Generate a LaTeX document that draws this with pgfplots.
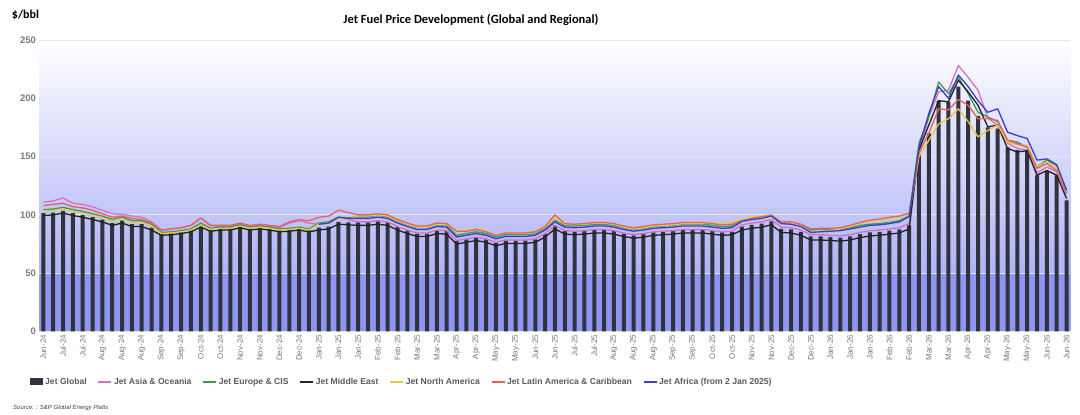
\documentclass[border=0pt]{standalone}
\usepackage{fontspec}
\setmainfont{Liberation Sans}
\newfontfamily\titlefont{Carlito}
\usepackage{pgfplots}
\usepackage{pgfplotstable}
\pgfplotsset{compat=1.18}

\definecolor{barc}{HTML}{30323D}
\definecolor{asia}{HTML}{D86FC2}
\definecolor{eur}{HTML}{3E9B4F}
\definecolor{mec}{HTML}{222222}
\definecolor{nac}{HTML}{E9C94A}
\definecolor{lat}{HTML}{E2645C}
\definecolor{afr}{HTML}{3B3FC0}
\definecolor{tickc}{HTML}{7A7A7A}
\definecolor{legc}{HTML}{5A5A5A}
\definecolor{bgmid}{HTML}{CDD0F9}
\definecolor{bgbot}{HTML}{99A0F4}
\definecolor{band}{HTML}{8E96F2}
\definecolor{gridc}{HTML}{E6E7F2}

\pgfplotstableread{
x g asia eur me na lat afr
0 101.5 111 104.5 99.5 103 108 nan
1 102 112 105 100 103.5 109 nan
2 103.5 114.5 106.5 101.5 105 110 nan
3 101.5 110 104.5 99.5 103 107 nan
4 100 109 103 98 101.5 106 nan
5 98 107 101 96 99.5 104 nan
6 96 104 99 94 97.5 101 nan
7 93 101 96 91 94.5 98 nan
8 95 100.5 98 93 96.5 99 nan
9 92 99 95 90 93.5 97 nan
10 92 98 95 90 93.5 96 nan
11 89 94 92 87 90.5 93 nan
12 84 87 85 82.5 84 87 nan
13 84.5 88 85.5 83 84.5 88 nan
14 85.5 89 86.5 84 85.5 89 nan
15 87 91 88 85.5 87 91 nan
16 91 97 93 89.5 91 97.5 nan
17 87.5 91 88.5 86 87.5 91 nan
18 88.5 90 89.5 87 88.5 91 nan
19 88.5 90 89.5 87 88.5 91 nan
20 90.5 92 91.5 89 90.5 93 nan
21 88.5 90 89.5 87 88.5 91 nan
22 89.5 91 90.5 88 89.5 92 nan
23 88.5 90 89.5 87 88.5 91 nan
24 87 89 88 85.5 87 90 nan
25 87.5 93 88.5 86 87.5 94 nan
26 88.5 95 89.5 87 88.5 96 nan
27 87 93 88 85.5 87 95 nan
28 89 92 93 87 92 98 92
29 90 93 94 88 93 99 93
30 94 98 98 92 97 104 98
31 93.5 96 97.5 91.5 96.5 102 97
32 93.5 94 98.5 91 99 100 97
33 93.5 94 98.5 91 99 100 97
34 94.5 95 99.5 92 100 101 98
35 93.5 94 98.5 91 99 100 97
36 89.5 90 94.5 87 95 96 93
37 86.5 87 91.5 84 92 93 90
38 84 84.5 89 81.5 89.5 90.5 87.5
39 84 84.5 89 81.5 89.5 90.5 87.5
40 86.5 87 91.5 84 92 93 90
41 86 86.5 91 83.5 91.5 92.5 89.5
42 77.5 78 82.5 75 86.5 86 81
43 79 79.5 84 76.5 87 86 82.5
44 80.5 81 85.5 78 88 87.5 84
45 79 79.5 84 76.5 86.5 85.5 82.5
46 76 76.5 81 73.5 82.5 82.5 79.5
47 78 78.5 83 75.5 84.5 84.5 81.5
48 78 78.5 83 75.5 84 84.5 81.5
49 78 78.5 83 75.5 84 84.5 81.5
50 79 79.5 84 76.5 85 85.5 82.5
51 83.5 84 88.5 81 89.5 90 87
52 91 91 95.5 88 97 100 94
53 86 86.5 91 83.5 92 92.5 89.5
54 85.5 86 90.5 83 91.5 92 89
55 86 86.5 91 83.5 92 92.5 89.5
56 87 87.5 92 84.5 93 93.5 90.5
57 87 87.5 92 84.5 93 93.5 90.5
58 86 86.5 91 83.5 92 92.5 89.5
59 84 84.5 89 81.5 89.5 90.5 87.5
60 82.5 83 87.5 80 88 89 86
61 83.5 84 88.5 81 89 90 87
62 85 85.5 90 82.5 90.5 91.5 88.5
63 85.5 86 90.5 83 91 92 89
64 86 86.5 91 83.5 91.5 92.5 89.5
65 87 87.5 92 84.5 92.5 93.5 90.5
66 87 87.5 92 84.5 92.5 93.5 90.5
67 87 87.5 92 84.5 92.5 93.5 90.5
68 86 86.5 91 83.5 93 92.5 89.5
69 85 85.5 90 82.5 93.5 91.5 88.5
70 85.5 86 90.5 83 94 92 89
71 90 91.5 95.5 87 96 95 94.5
72 91.5 93 97.5 88.5 98 97 96
73 92.5 94 98.5 89.5 99 98.5 97
74 94.5 96 100 91.5 100 99.5 99
75 88 89.5 93.5 85 93.5 94 92.5
76 87.5 89 93 84.5 93 94 92
77 85.5 87 91 82.5 90.5 92 90
78 81.5 83 87 78.5 85.5 88 85
79 81.5 83 88 78.5 86 88.5 85.5
80 81 82.5 87 78 86.5 88.5 86
81 80.5 82 87.5 77.5 88 89 86.5
82 81.5 83 89 78.5 90 91 88
83 83.5 85 91 80.5 92.5 93.5 89.5
84 85 86.5 92 82 94.5 95.5 91
85 85.5 87 92.5 82.5 95.5 96.5 91.5
86 86.5 88 93.5 83.5 96.5 98 92.5
87 87.5 89 95 84.5 98 99 94
88 91 92.5 99 88 101 101.5 98.5
89 152 153 161.5 155.5 150 153 158
90 170 184 184 177 164 170 187
91 198 205.5 214 198 178 191 210
92 197 207 204 197 182.5 190 200
93 210 228 218 215.5 191 199 220
94 198 218 204 205.5 180 194 210
95 185 207 188 194 167 182.5 198
96 175 183 184 175.5 172.5 182.5 188
97 174 177 180 177 177 181 191
98 158 161.5 164 157 162.5 164 171
99 155.5 157 162.5 154 160 161 168
100 155 155.5 158 155 160 158 165.5
101 134 136 141 134 141 140 147
102 138 141 147 138 145.5 144 148
103 134 137 142.5 134 140 138 143
104 112.5 118.5 121 114 120 118 121
}\data

\begin{document}
\begin{tikzpicture}
\useasboundingbox (0,0) rectangle (1080pt,415pt);
\begin{axis}[
  at={(39.4pt,83.5pt)}, anchor=south west,
  scale only axis, width=1031.1pt, height=291.5pt,
  xmin=-0.4, xmax=104.4, ymin=0, ymax=250,
  ytick={0,50,100,150,200,250},
  xtick={0,2,...,104},
  xticklabels={Jun-24,Jul-24,Jul-24,Aug-24,Aug-24,Aug-24,Sep-24,Sep-24,Oct-24,Oct-24,Nov-24,Nov-24,Dec-24,Dec-24,Jan-25,Jan-25,Jan-25,Feb-25,Feb-25,Mar-25,Mar-25,Apr-25,Apr-25,May-25,May-25,Jun-25,Jun-25,Jul-25,Jul-25,Aug-25,Aug-25,Aug-25,Sep-25,Sep-25,Oct-25,Oct-25,Nov-25,Nov-25,Dec-25,Dec-25,Jan-26,Jan-26,Jan-26,Feb-26,Feb-26,Mar-26,Mar-26,Apr-26,Apr-26,May-26,May-26,Jun-26,Jun-26},
  /pgf/number format/assume math mode=true,
  x tick label style={rotate=90, anchor=east, font=\fontsize{8}{9}\selectfont, text=tickc},
  y tick label style={font=\bfseries\fontsize{9.5}{10}\selectfont, text=tickc},
  ymajorgrids, grid style={draw=gridc, line width=0.8pt},
  axis line style={draw=none},
  major tick length=0pt,
  axis background/.style={shade, top color=white, middle color=bgmid, bottom color=bgbot},
  legend style={at={(axis description cs:0,0)}, anchor=west, xshift=-9.4pt, yshift=-50.5pt,
    draw=none, fill=none, inner sep=0pt, legend columns=7,
    font=\bfseries\fontsize{8.6}{10}\selectfont, text=legc,
    /tikz/every even column/.append style={column sep=9pt}},
  legend image code/.code={\draw[#1] (0pt,0pt) -- (13pt,0pt);},
]
\addplot[draw=none, fill=band, forget plot] coordinates {(-0.4,49.4) (104.4,49.4)} \closedcycle;
\addplot[ybar, bar width=4pt, fill=barc, draw=none,
  legend image code/.code={\fill[barc] (0pt,-3.5pt) rectangle (13pt,3.5pt);}] table[x=x,y=g] {\data};
\addlegendentry{Jet Global}
\addplot[asia, line width=1.3pt, line join=round] table[x=x,y=asia] {\data};
\addlegendentry{Jet Asia \& Oceania}
\addplot[eur, line width=1.3pt, line join=round] table[x=x,y=eur] {\data};
\addlegendentry{Jet Europe \& CIS}
\addplot[mec, line width=1.3pt, line join=round] table[x=x,y=me] {\data};
\addlegendentry{Jet Middle East}
\addplot[nac, line width=1.3pt, line join=round] table[x=x,y=na] {\data};
\addlegendentry{Jet North America}
\addplot[lat, line width=1.3pt, line join=round] table[x=x,y=lat] {\data};
\addlegendentry{Jet Latin America \& Caribbean}
\addplot[afr, line width=1.3pt, line join=round] table[x=x,y=afr] {\data};
\addlegendentry{Jet Africa (from 2 Jan 2025)}
\end{axis}
\node[font=\titlefont\bfseries\fontsize{12.5}{14}\selectfont] at (471pt,395pt) {Jet Fuel Price Development (Global and Regional)};
\node[font=\titlefont\bfseries\fontsize{12}{14}\selectfont] at (25.5pt,400pt) {\$/bbl};
\node[anchor=west, font=\itshape\fontsize{6}{7}\selectfont, text=black!75, inner sep=0pt] at (13pt,7pt) {Source: : S\&P Global Energy Platts};
\end{tikzpicture}
\end{document}
